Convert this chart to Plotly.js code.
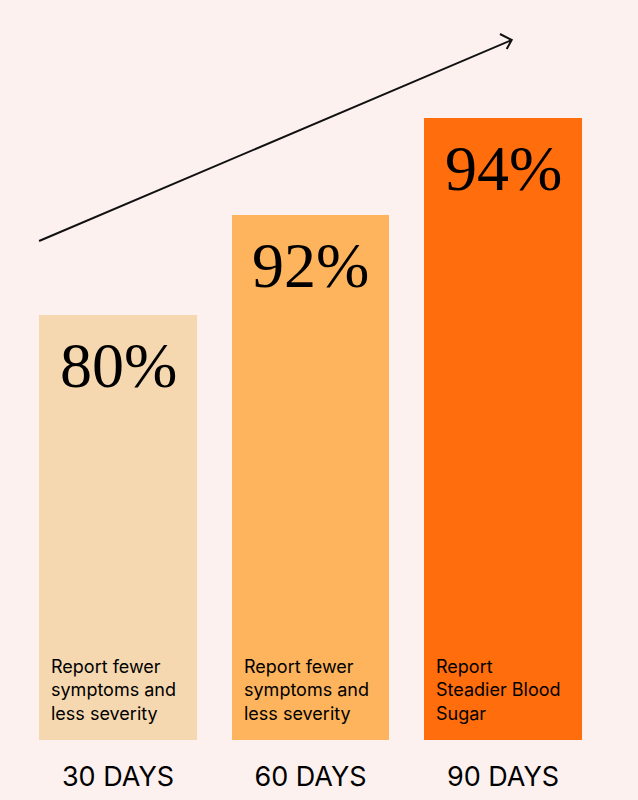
<!DOCTYPE html>
<html>
<head>
<meta charset="utf-8">
<script src="https://cdn.plot.ly/plotly-3.0.1.min.js"></script>
<style>
  html, body { margin: 0; padding: 0; background: #fdf1f0; }
  #chart { width: 638px; height: 800px; }
</style>
</head>
<body>
<div id="chart"></div>
<script>
// values
var days = ['30 DAYS', '60 DAYS', '90 DAYS']
var percents = ['80%', '92%', '94%']
var barHeight = [425, 525, 622]   // drawn bar heights (not to scale with the %)
var notes = [
    'Report fewer<br>symptoms and<br>less severity',
    'Report fewer<br>symptoms and<br>less severity',
    'Report<br>Steadier Blood<br>Sugar'
]
var colors = ['#f6d8b0', '#fdb45c', '#ff6d0c']

var barWidth = 0.82

var trace = {
    x: days,
    y: barHeight,
    type: 'bar',
    width: barWidth,
    marker: { color: colors, line: { width: 0 } },
    hoverinfo: 'skip',
}

var annotations = []
for (i = 0; i < days.length; i++) {
    // big percentage at top of the bar
    annotations.push({
        x: i, y: barHeight[i], xref: 'x', yref: 'y',
        text: percents[i],
        showarrow: false,
        xanchor: 'center', yanchor: 'top',
        yshift: -13,
        font: { family: 'Liberation Serif, serif', size: 64, color: '#000' },
    })
    // description at bottom-left of bar
    annotations.push({
        x: i - barWidth / 2, y: 0, xref: 'x', yref: 'y',
        text: notes[i],
        showarrow: false,
        align: 'left',
        xanchor: 'left', yanchor: 'bottom',
        xshift: 10, yshift: 14,
        font: { family: 'Inter, sans-serif', size: 18, color: '#000' },
    })
}

var layout = {
    width: 638,
    height: 800,
    margin: { t: 0, l: 0, r: 0, b: 60, pad: 0 },
    paper_bgcolor: '#fdf1f0',
    plot_bgcolor: '#fdf1f0',
    showlegend: false,
    bargap: 0,
    xaxis: {
        type: 'category',
        range: [-0.613, 2.701],
        showgrid: false,
        showline: false,
        zeroline: false,
        ticks: '',
        ticklabelstandoff: 18,
        tickfont: { family: 'Inter, sans-serif', size: 27, color: '#000' },
        fixedrange: true,
    },
    yaxis: {
        range: [0, 740],
        visible: false,
        fixedrange: true,
    },
    annotations: annotations,
    shapes: [
        {
            // trend arrow
            type: 'path', xref: 'x', yref: 'y',
            path: 'M -0.410,499 L 2.045,700 M 1.984,706 L 2.045,700 L 2.019,691',
            line: { color: '#111', width: 2 },
        },
    ],
}

Plotly.newPlot('chart', [trace], layout, { displayModeBar: false, staticPlot: true })
</script>
</body>
</html>
